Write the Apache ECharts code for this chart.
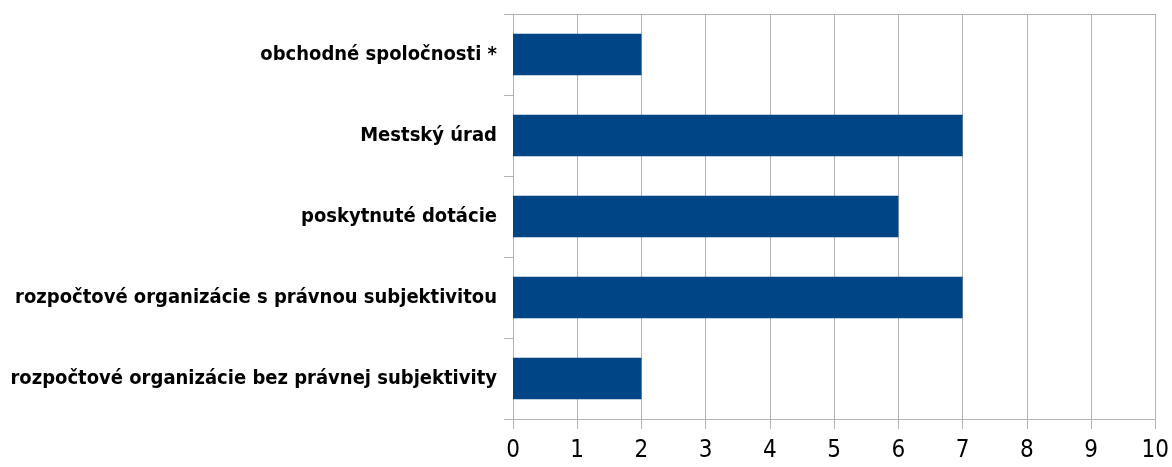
<!DOCTYPE html>
<html>
<head>
<meta charset="utf-8">
<script src="https://cdn.jsdelivr.net/npm/echarts@6/dist/echarts.min.js"></script>
<style>
  html, body { margin: 0; padding: 0; background: #fff; }
  #chart { width: 1172px; height: 467px; }
</style>
</head>
<body>
<div id="chart"></div>
<script>
// categories from bottom to top
const categories = [
  'rozpočtové organizácie bez právnej subjektivity',
  'rozpočtové organizácie s právnou subjektivitou',
  'poskytnuté dotácie',
  'Mestský úrad',
  'obchodné spoločnosti *'
];
const values = [2, 7, 6, 7, 2];
const xTicks = [0, 10, 1]; // min, max, step

const gridColor = '#b3b3b3';
const narrow = '"Liberation Sans Narrow", "DejaVu Sans Condensed", "Liberation Sans", sans-serif';

const chart = echarts.init(document.getElementById('chart'));
chart.setOption({
  animation: false,
  grid: { left: 513, right: 14, top: 14, bottom: 48 },
  xAxis: [
    {
      type: 'value',
      min: xTicks[0],
      max: xTicks[1],
      interval: xTicks[2],
      position: 'bottom',
      axisLine: { show: true, lineStyle: { color: gridColor, width: 1 } },
      axisTick: { show: true, length: 10, lineStyle: { color: gridColor } },
      splitLine: { show: true, lineStyle: { color: gridColor, width: 1 } },
      axisLabel: { color: '#000', fontSize: 24, fontFamily: narrow, margin: 20 }
    },
    {
      type: 'value',
      min: xTicks[0],
      max: xTicks[1],
      position: 'top',
      axisLine: { show: true, lineStyle: { color: gridColor, width: 1 } },
      axisTick: { show: false },
      splitLine: { show: false },
      axisLabel: { show: false }
    }
  ],
  yAxis: {
    type: 'category',
    data: categories,
    axisLine: { show: true, lineStyle: { color: gridColor, width: 1 } },
    axisTick: { show: true, length: 9, lineStyle: { color: gridColor } },
    axisLabel: {
      color: '#000', fontSize: 20, fontWeight: 'bold', fontFamily: narrow, margin: 16
    }
  },
  series: [{
    type: 'bar',
    data: values,
    barWidth: '51%',
    itemStyle: { color: '#004586' }
  }]
});
</script>
</body>
</html>
